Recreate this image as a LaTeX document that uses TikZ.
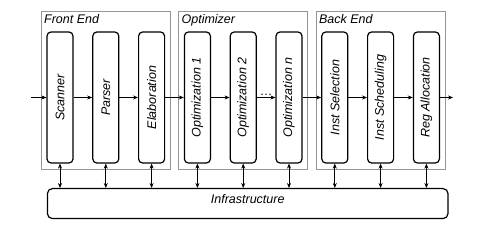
\documentclass[tikz,border=0pt]{standalone}
\usepackage{graphicx}
\usepackage{fontspec}
\setmainfont{Liberation Sans}
\usetikzlibrary{arrows.meta,positioning,calc,fit}
\definecolor{groupgrey}{RGB}{150,150,150}

\begin{document}
\begin{tikzpicture}[x=1pt, y=1pt,
    stage/.style={rectangle, draw=black, line width=1.2pt, rounded corners=4pt,
        minimum width=26pt, minimum height=131pt, inner sep=0pt,
        font=\fontsize{12.5}{14}\selectfont\itshape},
    group/.style={rectangle, draw=groupgrey, line width=0.8pt,
        inner xsep=5pt, inner ysep=6pt},
    grouplbl/.style={anchor=north west, inner sep=3pt,
        font=\fontsize{12.5}{14}\selectfont\itshape},
    infra/.style={rectangle, draw=black, line width=1.2pt, rounded corners=5pt,
        inner sep=0pt, font=\fontsize{12.5}{14}\selectfont\itshape},
    arr/.style={-{Stealth[length=5pt,width=4pt]}, line width=0.7pt},
    darr/.style={{Stealth[length=5pt,width=4pt]}-{Stealth[length=5pt,width=4pt]}, line width=0.7pt}
]
    \useasboundingbox (0,0) rectangle (491,228);

    % stages
    \node[stage] (scan) at (60,130.5) {\rotatebox{90}{Scanner}};
    \node[stage, right=18.6pt of scan] (pars) {\rotatebox{90}{Parser}};
    \node[stage, right=18.6pt of pars] (elab) {\rotatebox{90}{Elaboration}};
    \node[stage, right=18.6pt of elab] (opt1) {\rotatebox{90}{Optimization 1}};
    \node[stage, right=18.6pt of opt1] (opt2) {\rotatebox{90}{Optimization 2}};
    \node[stage, right=18.6pt of opt2] (optn) {\rotatebox{90}{Optimization \textit{n}}};
    \node[stage, right=18.6pt of optn] (isel) {\rotatebox{90}{Inst Selection}};
    \node[stage, right=18.6pt of isel] (isch) {\rotatebox{90}{Inst Scheduling}};
    \node[stage, right=18.6pt of isch] (regal) {\rotatebox{90}{Reg Allocation}};

    % groups
    \node[group, fit={(scan) (elab) ($(scan.north)+(0,14pt)$)}] (fe) {};
    \node[group, fit={(opt1) (optn) ($(opt1.north)+(0,14pt)$)}] (opt) {};
    \node[group, fit={(isel) (regal) ($(isel.north)+(0,14pt)$)}] (be) {};
    \node[grouplbl] at (fe.north west) {Front End};
    \node[grouplbl] at (opt.north west) {Optimizer};
    \node[grouplbl] at (be.north west) {Back End};

    \node[infra, fit={($(scan.south west)+(1pt,-25pt)$) ($(regal.south east)+(8pt,-55pt)$)}] (infra) {Infrastructure};

    % flow
    \coordinate (in) at ($(scan.west)+(-15pt,0)$);
    \coordinate (out) at ($(regal.east)+(13pt,0)$);
    \draw[arr] (in) -- (scan);
    \draw[arr] (scan) -- (pars);
    \draw[arr] (pars) -- (elab);
    \draw[arr] (elab) -- (opt1);
    \draw[arr] (opt1) -- (opt2);
    \draw[arr] (opt2) -- node[above, inner sep=1.5pt, font=\fontsize{12.5}{14}\selectfont] {\dots} (optn);
    \draw[arr] (optn) -- (isel);
    \draw[arr] (isel) -- (isch);
    \draw[arr] (isch) -- (regal);
    \draw[arr] (regal) -- (out);

    \foreach \s in {scan,pars,elab,opt1,opt2,optn,isel,isch,regal}
        \draw[darr] (\s.south) -- (\s.south |- infra.north);
\end{tikzpicture}
\end{document}
